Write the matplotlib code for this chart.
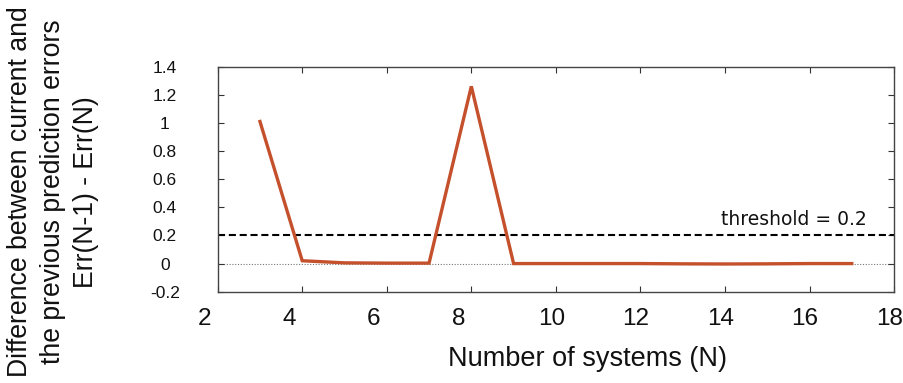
import matplotlib
matplotlib.use("Agg")
import matplotlib.pyplot as plt
from matplotlib.transforms import ScaledTranslation

plt.rcParams['font.family'] = ['Liberation Sans', 'DejaVu Sans']

# Data
n_systems = [3, 4, 5, 6, 7, 8, 9, 10, 11, 12, 13, 14, 15, 16, 17]
err_diff = [1.01, 0.02, 0.005, 0.003, 0.003, 1.26, 0.0, 0.0, 0.0, 0.0, -0.002, -0.003, -0.002, 0.0, 0.0]
threshold = 0.2
x_ticks = [2, 4, 6, 8, 10, 12, 14, 16, 18]
y_ticks = [-0.2, 0, 0.2, 0.4, 0.6, 0.8, 1, 1.2, 1.4]
y_tick_labels = ["-0.2", "0", "0.2", "0.4", "0.6", "0.8", "1", "1.2", "1.4"]

fig = plt.figure(figsize=(9.04, 3.83), dpi=100)
ax = fig.add_axes([0.2408, 0.2384, 0.989 - 0.2408, 0.826 - 0.2384])

ax.axhline(0, color='#777777', lw=0.8, ls=(0, (1, 1.5)), zorder=1)
ax.axhline(threshold, color='black', lw=1.5, ls=(0, (3.4, 1.8)), zorder=2)
ax.plot(n_systems, err_diff, color='#c4502c', lw=2.4, zorder=3, solid_joinstyle='miter')

ax.text(17.36, 0.316, "threshold = 0.2", ha='right', va='center', fontsize=13.5,
        family='DejaVu Sans', color='#111111')

ax.set_xlim(2, 18)
ax.set_ylim(-0.2, 1.4)
ax.set_xticks(x_ticks)
ax.set_xticklabels([str(v) for v in x_ticks])
ax.set_yticks(y_ticks)
ax.set_yticklabels(y_tick_labels, ha='center')
ax.tick_params(axis='x', direction='in', top=True, length=4, width=0.8, labelsize=17.5, pad=12, colors='#333333', labelcolor='#111111')
ax.tick_params(axis='y', direction='in', right=True, length=4, width=0.8, labelsize=12.5, pad=38, colors='#333333', labelcolor='#111111')
for s in ax.spines.values():
    s.set_color('#444444')
    s.set_linewidth(1.0)

for lbl in ax.get_xticklabels():
    shift = -13 if len(lbl.get_text()) == 1 else -4.5
    lbl.set_transform(lbl.get_transform() + ScaledTranslation(shift / 100, 0, fig.dpi_scale_trans))

fig.text(588 / 904, 1 - 359 / 383, "Number of systems (N)", ha='center', va='center', fontsize=19.5, color='#111111')
fig.text(53.5 / 904, 1 - 192 / 383,
         "Difference between current and\nthe previous prediction errors\nErr(N-1) - Err(N)",
         rotation=90, ha='center', va='center', multialignment='center', fontsize=19.2,
         linespacing=1.35, color='#111111')

fig.savefig("out.png", dpi=100)
